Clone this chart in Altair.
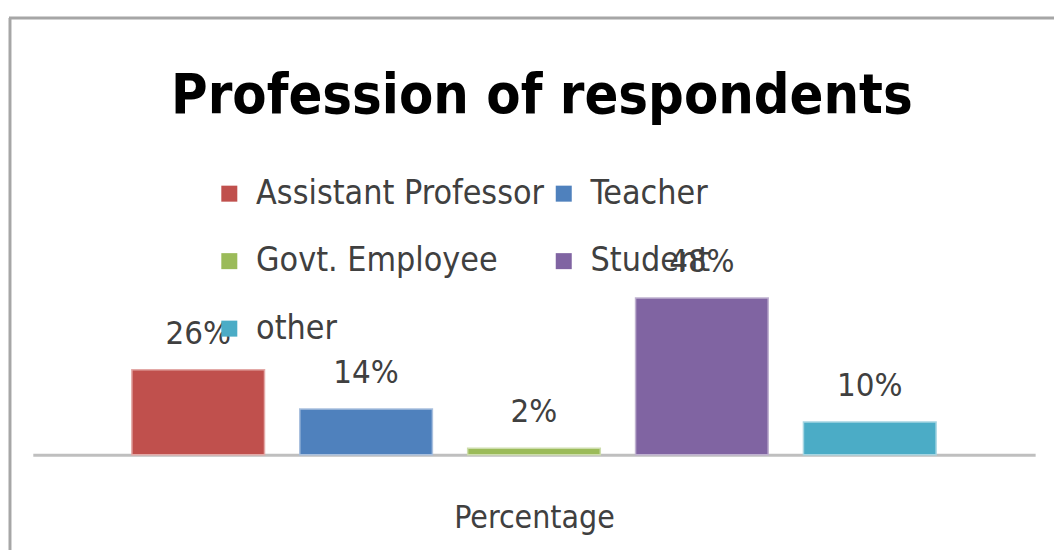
import altair as alt
import pandas as pd

categories = ["Assistant Professor", "Teacher", "Govt. Employee", "Student", "other"]
values = [26, 14, 2, 48, 10]
labels = ["26%", "14%", "2%", "48%", "10%"]
colors = ["#C0504D", "#4F81BD", "#9BBB59", "#8064A2", "#4BACC6"]
edge_colors = ["#E3A9A7", "#A9C0DE", "#CDDDAC", "#BFB1D0", "#A5D5E2"]
title_text = "Profession of respondents"

df = pd.DataFrame({"cat": categories, "val": values, "lab": labels})

FONT = "Liberation Sans Narrow, DejaVu Sans Condensed, Liberation Sans, sans-serif"
W, H = 1010, 296

xenc = alt.X("cat:N", sort=categories,
             scale=alt.Scale(paddingInner=0.21, paddingOuter=0.59),
             axis=alt.Axis(labels=False, ticks=False, domainColor="#bfbfbf",
                           domainWidth=3, title="Percentage", titleFontSize=32,
                           titleFont=FONT, titleFontWeight="normal",
                           titleColor="#404040", titlePadding=48))
yenc = alt.Y("val:Q", scale=alt.Scale(domain=[0, 90]), axis=None)

bars = alt.Chart(df).mark_bar(strokeWidth=1.5).encode(
    x=xenc, y=yenc,
    color=alt.Color("cat:N", sort=categories,
                    scale=alt.Scale(domain=categories, range=colors),
                    legend=alt.Legend(orient="none", legendX=181, legendY=16,
                                      columns=2, direction="horizontal",
                                      title=None, symbolType="square",
                                      symbolSize=260, symbolStrokeWidth=0,
                                      labelFont=FONT, labelFontSize=34,
                                      labelColor="#404040", labelOffset=10,
                                      columnPadding=2, rowPadding=34,
                                      padding=0, labelLimit=400)),
    stroke=alt.Stroke("cat:N", sort=categories,
                      scale=alt.Scale(domain=categories, range=edge_colors),
                      legend=None),
)

text = alt.Chart(df).mark_text(font=FONT, fontSize=33, color="#404040", dy=-36,
                               baseline="middle").encode(
    x=alt.X("cat:N", sort=categories), y="val:Q", text="lab:N")

frame_data = alt.Data(values=[{"a": 1}])
title_mark = alt.Chart(frame_data).mark_text(
    font=FONT, fontSize=56, fontWeight="bold", color="#000000",
    align="center", baseline="alphabetic").encode(
    x=alt.value(W / 2 + 8), y=alt.value(-48), text=alt.value(title_text))
left_line = alt.Chart(frame_data).mark_rule(color="#a6a6a6", strokeWidth=3).encode(
    x=alt.value(-23), y=alt.value(-144), y2=alt.value(H + 96))
top_line = alt.Chart(frame_data).mark_rule(color="#a6a6a6", strokeWidth=3).encode(
    x=alt.value(-24), x2=alt.value(W + 19), y=alt.value(-144))

chart = alt.layer(bars, text, title_mark, left_line, top_line).properties(
    width=W, height=H,
    autosize=alt.AutoSizeParams(type="none"),
    padding={"left": 25, "top": 152, "right": 19, "bottom": 96},
).configure(background="white").configure_view(stroke=None, strokeWidth=0)

chart.save("out.html", embed_options={"renderer": "svg", "actions": False})
